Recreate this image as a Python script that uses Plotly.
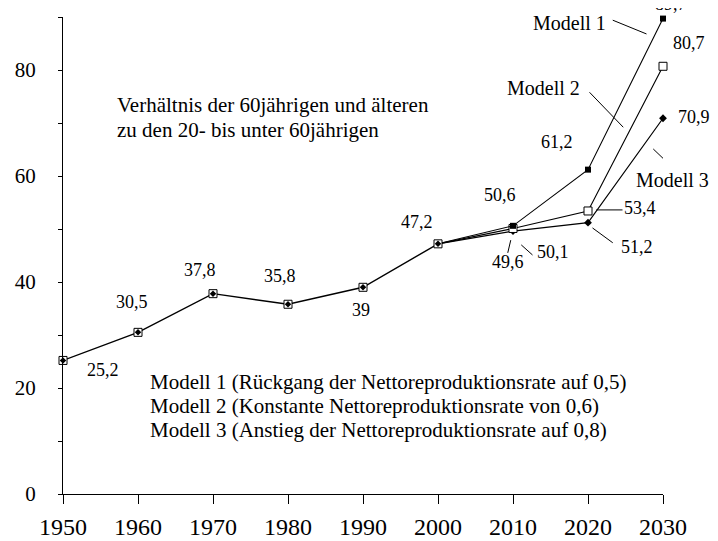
import plotly.graph_objects as go

# historische Werte
years_hist = [1950, 1960, 1970, 1980, 1990, 2000]
hist = [25.2, 30.5, 37.8, 35.8, 39, 47.2]

# Vorausberechnung ab 2000
years_mod = [2000, 2010, 2020, 2030]
modell1 = [47.2, 50.6, 61.2, 89.7]
modell2 = [47.2, 50.1, 53.4, 80.7]
modell3 = [47.2, 49.6, 51.2, 70.9]

x_ticks = [1950, 1960, 1970, 1980, 1990, 2000, 2010, 2020, 2030]
y_ticks = [0, 10, 20, 30, 40, 50, 60, 70, 80, 90]
y_ticklabels = ['0', '', '20', '', '40', '', '60', '', '80', '']

FONT = 'Liberation Serif'
X_MAX, Y_MAX = 2030, 90
PX_PER_YEAR, PX_PER_UNIT = 7.5, 5.3  # 600px / 80 Jahre, 477px / 90


def add_label(fig, txt, lx, ly, size, **kw):
    # Plotly blendet Annotationen ausserhalb des Achsenbereichs aus -> verschieben
    xs = (lx - X_MAX) * PX_PER_YEAR if lx > X_MAX else 0
    ys = (ly - Y_MAX) * PX_PER_UNIT if ly > Y_MAX else 0
    fig.add_annotation(x=min(lx, X_MAX), y=min(ly, Y_MAX), xshift=xs, yshift=ys,
                       text=txt, showarrow=False,
                       font=dict(family=FONT, size=size, color='black'), **kw)


fig = go.Figure()

hide_first = [0, 1, 1, 1]
fig.add_trace(go.Scatter(x=years_mod, y=modell3, mode='lines+markers',
                         line=dict(color='black', width=1.1),
                         marker=dict(symbol='diamond', size=6, color='black', opacity=hide_first),
                         cliponaxis=False, showlegend=False))
fig.add_trace(go.Scatter(x=years_mod, y=modell2, mode='lines+markers',
                         line=dict(color='black', width=1.1),
                         marker=dict(symbol='square', size=8, color='white',
                                     line=dict(color='black', width=1), opacity=hide_first),
                         cliponaxis=False, showlegend=False))
fig.add_trace(go.Scatter(x=years_mod, y=modell1, mode='lines+markers',
                         line=dict(color='black', width=1.1),
                         marker=dict(symbol='square', size=6, color='black', opacity=hide_first),
                         cliponaxis=False, showlegend=False))

fig.add_trace(go.Scatter(x=years_hist, y=hist, mode='lines+markers',
                         line=dict(color='black', width=1.4),
                         marker=dict(symbol='square', size=8, color='white',
                                     line=dict(color='black', width=1)),
                         cliponaxis=False, showlegend=False))
fig.add_trace(go.Scatter(x=years_hist, y=hist, mode='markers',
                         marker=dict(symbol='diamond', size=5, color='black'),
                         cliponaxis=False, showlegend=False))

# Wertbeschriftungen (Position in Datenkoordinaten)
labels = [
    ('25,2', 1955.3, 23.4), ('30,5', 1959.2, 36.2), ('37,8', 1968.3, 42.3),
    ('35,8', 1978.9, 41.1), ('39', 1989.7, 34.7), ('47,2', 1997.2, 51.3),
    ('50,6', 2008.3, 56.4), ('61,2', 2015.8, 66.4), ('89,7', 2031.1, 92.4),
    ('80,7', 2033.5, 85.1), ('70,9', 2034.1, 71.1), ('53,4', 2026.9, 54.0),
    ('51,2', 2026.5, 46.6), ('50,1', 2015.3, 45.7), ('49,6', 2009.3, 43.8),
]
for txt, lx, ly in labels:
    add_label(fig, txt, lx, ly, 18)

modell_labels = [('Modell 1', 2017.5, 88.9), ('Modell 2', 2014.1, 76.6), ('Modell 3', 2031.3, 59.2)]
for txt, lx, ly in modell_labels:
    add_label(fig, txt, lx, ly, 20)

# Hinweislinien
leaders = [
    (2023.3, 89.4, 2027.8, 86.8), (2020.2, 75.8, 2024.7, 69.2),
    (2028.7, 65.1, 2031.8, 60.9), (2021.1, 53.6, 2024.6, 53.6),
    (2020.6, 50.2, 2023.3, 47.4), (2011.1, 47.0, 2012.6, 45.1),
    (2009.7, 47.9, 2009.3, 45.5),
]
for x0, y0, x1, y1 in leaders:
    fig.add_shape(type='line', x0=x0, y0=y0, x1=x1, y1=y1, xref='x', yref='y',
                  line=dict(color='black', width=1))

text_lines = [
    ('Verhältnis der 60jährigen und älteren', 1956.9, 73.4),
    ('zu den 20- bis unter 60jährigen', 1956.9, 68.7),
    ('Modell 1 (Rückgang der Nettoreproduktionsrate auf 0,5)', 1961.3, 21.1),
    ('Modell 2 (Konstante Nettoreproduktionsrate von 0,6)', 1961.3, 16.6),
    ('Modell 3 (Anstieg der Nettoreproduktionsrate auf 0,8)', 1961.3, 12.1),
]
for txt, lx, ly in text_lines:
    add_label(fig, txt, lx, ly, 21, xanchor='left')

# Seite hat 8px Rand -> Figur etwas kleiner
fig.update_layout(
    width=710, height=533,
    margin=dict(l=55, r=55, t=9, b=47),
    paper_bgcolor='white', plot_bgcolor='white',
    font=dict(family=FONT, color='black'),
    xaxis=dict(range=[1950, 2030], tickvals=x_ticks, ticks='outside', ticklen=9,
               tickcolor='black', showline=True, linecolor='black', linewidth=1.2,
               showgrid=False, zeroline=False, tickfont=dict(size=24, family=FONT),
               ticklabelstandoff=2, automargin=False),
    xaxis2=dict(range=[1950, 2030], tickvals=x_ticks, ticks='inside', ticklen=9,
                tickcolor='black', overlaying='x', anchor='y', side='bottom',
                showticklabels=False, showgrid=False, zeroline=False, showline=False,
                automargin=False),
    yaxis=dict(range=[0, 90], tickvals=y_ticks, ticktext=y_ticklabels, ticks='outside',
               ticklen=4, tickcolor='black', showline=True, linecolor='black', linewidth=1.2,
               showgrid=False, zeroline=False, tickfont=dict(size=21, family=FONT),
               ticklabelstandoff=18, automargin=False),
    yaxis2=dict(range=[0, 90], tickvals=y_ticks, ticks='inside', ticklen=4,
                tickcolor='black', overlaying='y', anchor='x', side='left',
                showticklabels=False, showgrid=False, zeroline=False, showline=False,
                automargin=False),
)

fig.write_html("out.html")
